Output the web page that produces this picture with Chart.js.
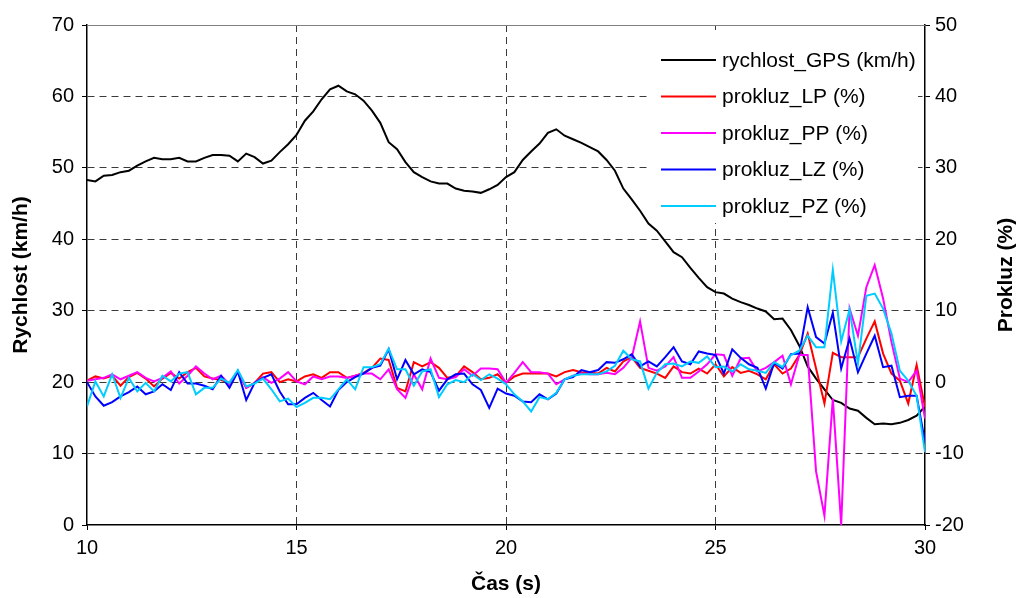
<!DOCTYPE html>
<html>
<head>
<meta charset="utf-8">
<script src="https://cdn.jsdelivr.net/npm/chart.js@4.4.0/dist/chart.umd.min.js"></script>
<style>
  body { margin: 0; background: #fff; }
  #wrap { width: 1019px; height: 598px; }
</style>
</head>
<body>
<div id="wrap"><canvas id="chart" width="1019" height="598"></canvas></div>
<script>
// time axis (s), sampled every 0.2 s
const time = [10,10.2,10.4,10.6,10.8,11,11.2,11.4,11.6,11.8,12,12.2,12.4,12.6,12.8,13,13.2,13.4,13.6,13.8,
  14,14.2,14.4,14.6,14.8,15,15.2,15.4,15.6,15.8,16,16.2,16.4,16.6,16.8,17,17.2,17.4,17.6,17.8,
  18,18.2,18.4,18.6,18.8,19,19.2,19.4,19.6,19.8,20,20.2,20.4,20.6,20.8,21,21.2,21.4,21.6,21.8,
  22,22.2,22.4,22.6,22.8,23,23.2,23.4,23.6,23.8,24,24.2,24.4,24.6,24.8,25,25.2,25.4,25.6,25.8,
  26,26.2,26.4,26.6,26.8,27,27.2,27.4,27.6,27.8,28,28.2,28.4,28.6,28.8,29,29.2,29.4,29.6,29.8,30];

// rychlost_GPS (km/h) - left axis
const speed = [48.3,48.1,48.9,49.0,49.4,49.6,50.3,50.9,51.4,51.2,51.2,51.4,50.9,50.9,51.4,51.8,51.8,51.7,50.9,52.0,
  51.5,50.6,51.0,52.2,53.3,54.6,56.6,57.9,59.6,61.0,61.5,60.7,60.3,59.4,58.0,56.3,53.6,52.6,50.8,49.4,
  48.7,48.1,47.8,47.8,47.1,46.8,46.7,46.5,47.0,47.6,48.7,49.4,51.1,52.3,53.4,54.9,55.4,54.5,54.0,53.5,
  52.9,52.3,51.1,49.6,47.1,45.6,44.0,42.2,41.2,39.7,38.2,37.5,36.0,34.6,33.3,32.6,32.4,31.7,31.2,30.8,
  30.3,29.9,28.8,28.9,27.3,25.1,22.2,20.5,19.0,17.5,17.1,16.3,16.0,15.0,14.1,14.2,14.1,14.3,14.7,15.3,16.6];

// prokluz (%) - right axis
const slipLP = [0.2,0.8,0.5,0.9,-0.5,0.7,1.3,0.5,-0.6,0.5,1.3,0.5,1.4,2.0,0.8,0.5,0.3,-0.1,1.5,-0.8,-0.1,1.2,
  1.4,0,0.4,0.1,0.8,1.1,0.6,1.4,1.4,0.6,0.9,1.3,2.0,3.3,3.1,-0.8,-1.3,2.8,2.2,2.8,2.0,
  0.6,0.8,2.2,1.4,0.4,0.6,1.1,-0.1,0.8,1.2,1.2,1.2,1.2,0.8,1.4,1.7,1.4,1.3,1.2,2.0,1.5,
  2.9,3.5,2.0,1.6,1.2,0.6,2.2,1.4,1.2,1.9,1.2,2.5,0.8,2.1,1.3,1.6,1.1,0.4,2.5,1.2,1.9,
  3.8,6.8,1.9,-3.0,4.1,3.5,3.5,3.5,6.1,8.5,4.0,1.2,0.2,-3.0,2.4,-3.5];
const slipPP = [0.2,0.4,0.6,1.1,0.4,0.9,1.4,0.6,0.1,0.6,1.5,-0.2,0.9,2.2,1.2,0.4,0.9,-0.3,1.5,-0.8,-0.1,0.7,
  -0.1,0.5,1.4,0.1,-0.3,0.8,0.4,0.8,0.8,0.6,0.9,1.2,1.2,0.4,1.8,-1.0,-2.2,1.1,-1.0,3.3,0.6,
  0.4,0.7,1.8,0.9,1.9,1.9,1.8,-0.1,1.3,2.8,1.4,1.4,1.2,-0.3,0.4,0.9,1.2,1.1,1.1,1.3,1.1,
  2.0,3.4,8.5,2.0,1.6,2.2,3.5,0.6,0.6,1.5,2.5,3.9,3.8,0.9,3.3,3.4,1.5,2.0,2.8,3.7,-0.3,
  3.8,3.8,-12.5,-18.7,-2.3,-20,10.3,6.5,13.3,16.4,11.7,5.6,0.5,0,1.6,-5.1];
const slipLZ = [0,-2.0,-3.3,-2.8,-2.0,-1.4,-0.6,-1.7,-1.3,-0.3,-1.1,1.4,-0.2,-0.2,-0.5,-1.0,0.9,-0.8,1.5,-2.5,-0.1,0.6,
  1.1,-1.3,-3.1,-3.1,-2.2,-1.5,-2.5,-3.4,-1.1,0,0.7,1.2,2.0,2.3,4.6,0.4,3.1,1.1,1.8,1.4,-1.2,
  0.4,1.1,1.2,-0.3,-1.1,-3.6,-0.9,-1.6,-1.9,-2.7,-2.8,-1.7,-2.4,-1.6,0.4,0.7,1.7,1.4,1.7,2.8,2.7,
  3.2,3.9,2.2,2.9,2.2,3.5,4.9,2.9,2.5,4.3,4.0,3.8,1.2,4.6,3.4,2.5,2.0,-0.9,2.7,1.9,3.9,
  4.0,10.5,6.3,5.4,9.7,1.9,6.1,1.4,4.0,6.5,2.1,2.3,-2.1,-1.9,-1.9,-8.4];
const slipPZ = [-3.4,0.1,-2.0,1.1,-2.2,0.6,-1.3,-0.1,-1.3,0.9,0.1,1.2,1.4,-1.7,-0.8,-0.8,0.5,-0.1,1.7,-0.6,-0.2,0.5,
  -1.0,-2.7,-2.3,-3.5,-2.9,-2.2,-2.2,-2.4,-1.0,0.4,-1.0,2.1,2.1,2.5,4.7,1.8,1.8,-0.5,1.5,1.8,-2.1,
  -0.3,0.3,0.0,1.1,0.3,1.1,0.5,-0.3,-1.7,-2.7,-4.1,-2.1,-2.4,-1.5,0.4,0.9,1.1,1.1,1.1,1.5,2.3,
  4.4,3.2,2.9,-0.9,1.3,2.5,2.6,2.2,2.9,2.7,3.6,2.1,2.2,1.5,2.5,1.8,1.6,1.3,2.8,2.1,3.8,
  4.4,6.5,4.9,4.9,15.7,5.7,10.2,2.6,12.1,12.4,10.3,6.8,1.6,0.2,-1.9,-9.8];

const seriesNames = ['rychlost_GPS (km/h)', 'prokluz_LP (%)', 'prokluz_PP (%)', 'prokluz_LZ (%)', 'prokluz_PZ (%)'];
const seriesColors = ['#000000', '#ff0000', '#ff00ff', '#0000ff', '#00ccff'];

const FONT = "'Liberation Sans', Arial, sans-serif";
Chart.defaults.font.family = FONT;
Chart.defaults.font.size = 20;
Chart.defaults.color = '#000';

function pts(vals) {
  return vals.map((v, i) => ({ x: time[i], y: v }));
}

// legend inside the plot, top border, right axis title
const extras = {
  id: 'extras',
  beforeDatasetsDraw(chart) {
    const ctx = chart.ctx, a = chart.chartArea;
    ctx.save();
    ctx.strokeStyle = '#808080';
    ctx.lineWidth = 1;
    ctx.beginPath();
    ctx.moveTo(a.left, a.top + 0.5);
    ctx.lineTo(a.right, a.top + 0.5);
    ctx.stroke();

    ctx.fillStyle = '#fff';
    ctx.fillRect(650, 30, 268, 193);
    ctx.font = '21px ' + FONT;
    ctx.textBaseline = 'middle';
    seriesNames.forEach((name, i) => {
      const y = 60 + i * 36.5;
      ctx.strokeStyle = seriesColors[i];
      ctx.lineWidth = 2;
      ctx.beginPath();
      ctx.moveTo(661, y);
      ctx.lineTo(716, y);
      ctx.stroke();
      ctx.fillStyle = '#000';
      ctx.fillText(name, 722, y + 1);
    });
    ctx.restore();
  },
  afterDraw(chart) {
    const ctx = chart.ctx, a = chart.chartArea;
    ctx.save();
    ctx.translate(1006, (a.top + a.bottom) / 2);
    ctx.rotate(-Math.PI / 2);
    ctx.font = 'bold 21px ' + FONT;
    ctx.fillStyle = '#000';
    ctx.textAlign = 'center';
    ctx.textBaseline = 'middle';
    ctx.fillText('Prokluz (%)', 0, 0);
    ctx.restore();
  }
};

const allSeries = [speed, slipLP, slipPP, slipLZ, slipPZ];
const datasets = allSeries.map((vals, i) => ({
  label: seriesNames[i],
  data: pts(vals),
  borderColor: seriesColors[i],
  borderWidth: 2,
  pointRadius: 0,
  tension: 0,
  fill: false,
  yAxisID: i === 0 ? 'y' : 'y2',
  order: 4 - i
}));

const gridColor = '#3a3a3a';

new Chart(document.getElementById('chart'), {
  type: 'line',
  data: { datasets: datasets },
  options: {
    responsive: false,
    animation: false,
    layout: { padding: { top: 25, left: 0, right: 0, bottom: 0 } },
    plugins: {
      legend: { display: false },
      tooltip: { enabled: false }
    },
    scales: {
      x: {
        type: 'linear',
        min: 10,
        max: 30,
        ticks: { stepSize: 5, padding: 6, maxRotation: 0 },
        grid: {
          color: c => (c.tick.value === 10 || c.tick.value === 30) ? 'transparent' : gridColor,
          tickColor: '#000',
          tickLength: 5,
          lineWidth: 1
        },
        border: { color: '#000', width: 1.5, dash: [7, 5] },
        title: { display: true, text: 'Čas (s)', font: { weight: 'bold', size: 21 }, padding: { top: 0, bottom: 1 } },
        afterFit: s => { s.height = 73; }
      },
      y: {
        position: 'left',
        min: 0,
        max: 70,
        ticks: { stepSize: 10, padding: 8 },
        grid: {
          color: c => (c.tick.value === 0 || c.tick.value === 70) ? 'transparent' : gridColor,
          tickColor: '#000',
          tickLength: 5,
          lineWidth: 1
        },
        border: { color: '#000', width: 1.5, dash: [7, 5] },
        title: { display: true, text: 'Rychlost (km/h)', font: { weight: 'bold', size: 21 }, padding: 9 },
        afterFit: s => { s.width = 87; }
      },
      y2: {
        position: 'right',
        min: -20,
        max: 50,
        ticks: { stepSize: 10, padding: 5 },
        grid: { drawOnChartArea: false, tickColor: '#000', tickLength: 5 },
        border: { color: '#000', width: 1.5 },
        afterFit: s => { s.width = 94; }
      }
    }
  },
  plugins: [extras]
});
</script>
</body>
</html>
